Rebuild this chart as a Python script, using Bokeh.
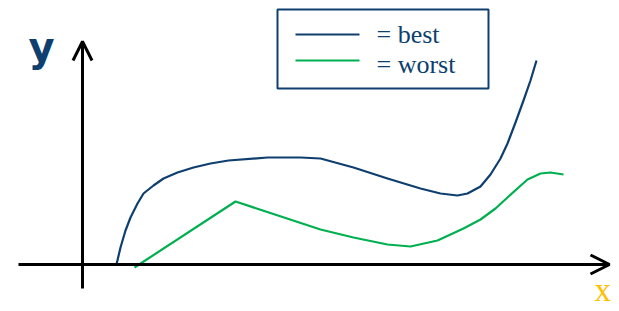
from bokeh.plotting import figure
from bokeh.models import Range1d, Arrow, OpenHead
from bokeh.embed import file_html
from bokeh.resources import INLINE
from bokeh.core.properties import value

# data (chart units: origin at the axes' crossing, y up)
best_x = [34, 38, 43, 48, 55, 61, 71, 81, 95, 111, 128, 146, 185, 218, 238, 271, 305, 338, 358, 375, 385, 398, 408, 418, 425, 433, 441, 448, 454]
best_y = [0, 17, 34, 47, 61, 71, 79, 86, 92, 97, 101, 104, 107, 107, 106, 97, 86, 76, 71, 69, 71, 78, 90, 106, 121, 142, 164, 184, 204]
worst_x = [52, 153, 238, 271, 305, 328, 355, 381, 398, 413, 425, 445, 458, 468, 481]
worst_y = [-3, 63, 35, 27, 20, 18, 24, 36, 45, 56, 67, 85, 91, 92, 90]
series_labels = ["= best", "= worst"]
axis_labels = ["x", "y"]

BLUE = "#0E3F6E"
GREEN = "#00B050"
GOLD = "#FFC000"

p = figure(width=619, height=311, output_backend="svg", toolbar_location=None,
           x_range=Range1d(-82, 537), y_range=Range1d(-47, 264),
           x_axis_type=None, y_axis_type=None, min_border=0,
           outline_line_color=None)
p.xgrid.visible = False
p.ygrid.visible = False

# axes with arrowheads
p.add_layout(Arrow(x_start=-64, y_start=0, x_end=527, y_end=0, line_width=3, line_color="black",
                   end=OpenHead(size=19, line_width=3, line_color="black")))
p.add_layout(Arrow(x_start=0, y_start=-24, x_end=0, y_end=223, line_width=3, line_color="black",
                   end=OpenHead(size=19, line_width=3, line_color="black")))

# curves
p.line(best_x, best_y, line_color=BLUE, line_width=2.2, line_join="round")
p.line(worst_x, worst_y, line_color=GREEN, line_width=2.2, line_join="round")

# axis labels
p.text(x=[-54], y=[218], text=[axis_labels[1]], text_color=BLUE, text_font=value("DejaVu Sans"),
       text_font_size="40px", text_font_style="bold", text_baseline="alphabetic")
p.text(x=[512], y=[-25], text=[axis_labels[0]], text_color=GOLD, text_font=value("Liberation Serif"),
       text_font_size="33px", text_baseline="alphabetic")

# legend box
p.quad(left=[195], right=[406], bottom=[176], top=[255], fill_color=None, line_color=BLUE, line_width=2)
p.segment(x0=[213], x1=[277], y0=[230], y1=[230], line_color=BLUE, line_width=2)
p.segment(x0=[213], x1=[277], y0=[204], y1=[204], line_color=GREEN, line_width=2)
p.text(x=[294, 294], y=[230, 200], text=series_labels, text_color=BLUE,
       text_font=value("Liberation Serif"), text_font_size="26px", text_baseline="alphabetic")

open("out.html", "w").write(file_html(p, INLINE))
